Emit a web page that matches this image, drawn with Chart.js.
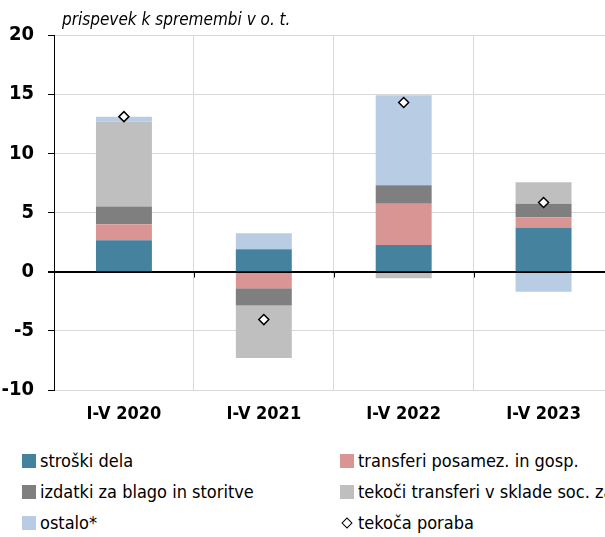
<!DOCTYPE html>
<html>
<head>
<meta charset="utf-8">
<script src="https://cdn.jsdelivr.net/npm/chart.js@4.4.1/dist/chart.umd.min.js"></script>
<style>
  html, body { margin: 0; padding: 0; background: #fff; }
  body { width: 605px; height: 537px; overflow: hidden; position: relative;
         font-family: 'Liberation Sans Narrow', 'DejaVu Sans Condensed', 'Arial Narrow', sans-serif; }
  #wrap { position: absolute; left: 0; top: 0; width: 620px; height: 430px; }
  #subtitle { position: absolute; left: 62px; top: 9px; font-size: 17px; font-style: italic; color: #000; white-space: nowrap; }
  #legend { position: absolute; left: 0; top: 449px; width: 700px; }
  .item { position: absolute; font-size: 18px; color: #000; white-space: nowrap; height: 24px; line-height: 24px; }
  .box { position: absolute; left: 0; top: 5px; width: 14px; height: 14px; }
  .dia { position: absolute; left: 3px; top: 8px; width: 6px; height: 6px; border: 1.3px solid #000; background: #fff; transform: rotate(45deg); }
</style>
</head>
<body>
<div id="wrap"><canvas id="c" width="620" height="430"></canvas></div>
<div id="subtitle">prispevek k spremembi v o. t.</div>
<div id="legend"></div>
<script>
const categories = ['I-V 2020', 'I-V 2021', 'I-V 2022', 'I-V 2023'];
const stroskiDela = [2.65, 1.9, 2.25, 3.7];
const transferiPosamez = [1.35, -1.4, 3.5, 0.9];
const izdatkiBlago = [1.5, -1.45, 1.55, 1.15];
const tekociTransferi = [7.2, -4.45, -0.55, 1.8];
const ostalo = [0.4, 1.35, 7.6, -1.7];
const tekocaPoraba = [13.1, -4.05, 14.3, 5.85];
const yTicks = [-10, -5, 0, 5, 10, 15, 20];

const seriesNames = ['stroški dela', 'transferi posamez. in gosp.', 'izdatki za blago in storitve',
  'tekoči transferi v sklade soc. zavarovanja', 'ostalo*', 'tekoča poraba'];
const colors = ['#44829e', '#d99594', '#7f7f7f', '#bfbfbf', '#b8cce4'];
const barData = [stroskiDela, transferiPosamez, izdatkiBlago, tekociTransferi, ostalo];

const FONT = "'Liberation Sans Narrow', 'DejaVu Sans Condensed', 'Arial Narrow', sans-serif";

const datasets = barData.map((d, i) => ({
  type: 'bar', label: seriesNames[i], data: d, backgroundColor: colors[i],
  stack: 's', order: 2, barPercentage: 0.4, categoryPercentage: 1.0, borderWidth: 0
}));
datasets.push({
  type: 'line', label: seriesNames[5], data: tekocaPoraba, showLine: false,
  pointStyle: 'rectRot', pointRadius: 5, pointHoverRadius: 5,
  pointBackgroundColor: '#fff', pointBorderColor: '#000', pointBorderWidth: 1.5,
  stack: 'p', order: 0
});

const zeroLine = {
  id: 'zeroLine',
  afterDatasetsDraw(chart) {
    const { ctx, chartArea, scales } = chart;
    const y = Math.round(scales.y.getPixelForValue(0)) + 0.5;
    ctx.save();
    ctx.strokeStyle = '#000';
    ctx.lineWidth = 1;
    ctx.beginPath();
    ctx.moveTo(chartArea.left - 6, y);
    ctx.lineTo(chartArea.right, y);
    const n = categories.length;
    for (let i = 1; i <= n; i++) {
      const x = Math.round(chartArea.left + (chartArea.right - chartArea.left) * i / n) + 0.5;
      ctx.moveTo(x, y);
      ctx.lineTo(x, y + 5);
    }
    ctx.stroke();
    ctx.restore();
  }
};

new Chart(document.getElementById('c'), {
  data: { labels: categories, datasets },
  options: {
    responsive: false, animation: false, devicePixelRatio: 1,
    layout: { padding: { top: 35, right: 2, left: 0, bottom: 0 } },
    plugins: { legend: { display: false }, tooltip: { enabled: false }, title: { display: false } },
    scales: {
      x: {
        stacked: true, offset: true,
        grid: { offset: true, color: '#d9d9d9', drawTicks: false, lineWidth: 1 },
        border: { display: false },
        ticks: { color: '#000', font: { family: FONT, size: 18, weight: 'bold' }, padding: 14 },
        afterFit(s) { s.height = 40; }
      },
      y: {
        stacked: true, min: -10, max: 20,
        afterBuildTicks(s) { s.ticks = yTicks.map(v => ({ value: v })); },
        grid: { color: ctx => (ctx.tick && ctx.tick.value === 0) ? '#000' : '#d9d9d9',
                tickColor: '#000', tickLength: 6, drawTicks: true },
        border: { display: true, color: '#000', width: 1 },
        ticks: { color: '#000', font: { family: FONT, size: 20, weight: 'bold' }, padding: 14 },
        afterFit(s) { s.width = 54; }
      }
    }
  },
  plugins: [zeroLine]
});

// HTML legend built from series names / colours
const legend = document.getElementById('legend');
const pos = [[22, 0], [340, 0], [22, 31], [340, 31], [22, 62], [340, 62]];
seriesNames.forEach((name, i) => {
  const it = document.createElement('div');
  it.className = 'item';
  it.style.left = pos[i][0] + 'px';
  it.style.top = pos[i][1] + 'px';
  it.style.paddingLeft = '18px';
  const mk = document.createElement('div');
  if (i < 5) { mk.className = 'box'; mk.style.background = colors[i]; }
  else { mk.className = 'dia'; }
  it.appendChild(mk);
  it.appendChild(document.createTextNode(name));
  legend.appendChild(it);
});
</script>
</body>
</html>
